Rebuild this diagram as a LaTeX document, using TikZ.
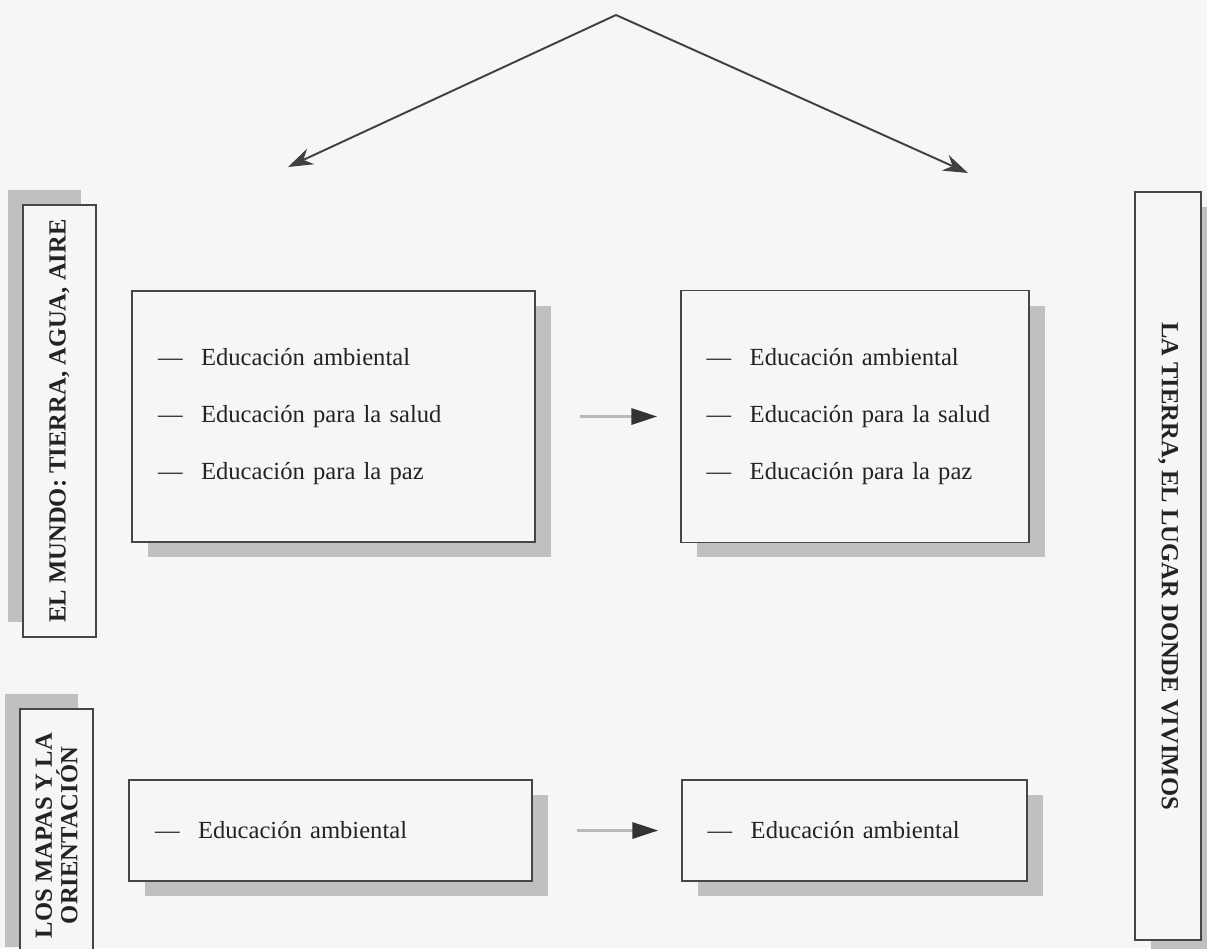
\documentclass[tikz,border=0pt]{standalone}
\usepackage{fontspec}
\setmainfont{Liberation Serif}
\usepackage{tikz}
\usetikzlibrary{arrows.meta,positioning,shadows}
\definecolor{fondo}{RGB}{246,246,244}
\definecolor{marco}{RGB}{70,70,70}
\definecolor{tinta}{RGB}{35,35,35}
\definecolor{sombra}{RGB}{192,192,192}

\begin{document}
\begin{tikzpicture}[x=0.02cm,y=-0.02cm,>=Stealth,
	caja/.style={draw=marco,fill=fondo,line width=1pt,text=tinta,inner xsep=0.52cm,inner ysep=0pt,align=left,font=\fontsize{14}{32.4}\selectfont},
	titulo/.style={draw=marco,fill=fondo,line width=1pt,text=tinta,align=center,inner sep=0pt,font=\bfseries\fontsize{14}{14.5}\selectfont},
	sombraabajo/.style={general shadow={fill=sombra,shadow xshift=0.32cm,shadow yshift=-0.3cm}},
	sombraarriba/.style={general shadow={fill=sombra,shadow xshift=-0.3cm,shadow yshift=0.3cm}},
	flecha/.style={line width=1.1pt,draw=black!75,-{Stealth[length=0.5cm,width=0.34cm]}},
	flechagris/.style={line width=1.8pt,draw=gray!55,-{Triangle[length=0.52cm,width=0.32cm,color=black!80]},shorten <=0.88cm,shorten >=0.45cm}]
		\fill[fondo] (0,0) rectangle (1207,948);
		\useasboundingbox (0,0) rectangle (1207,948);
		% flechas de arriba
		\coordinate (cima) at (616,15);
		\coordinate (puntaizq) at (288,167);
		\coordinate (puntader) at (968,173);
		\draw[flecha] (cima) -- (puntaizq);
		\draw[flecha] (cima) -- (puntader);
		% bloques verticales
		\node[titulo,sombraarriba,rotate=90,minimum width=8.64cm,minimum height=1.46cm] (mundo) at (59.5,421) {EL MUNDO: TIERRA, AGUA, AIRE};
		\node[titulo,sombraarriba,rotate=90,minimum width=5.06cm,minimum height=1.46cm] (mapas) at (56.5,835.5) {LOS MAPAS Y LA\\ ORIENTACIÓN};
		\node[titulo,sombraabajo,rotate=-90,minimum width=14.96cm,minimum height=1.32cm] (tierra) at (1168,566) {LA TIERRA, EL LUGAR DONDE VIVIMOS};
		% cajas de temas
		\node[caja,sombraabajo,text width=7.02cm,minimum height=5.02cm] (izq1) at (333.5,416.5) {---\hspace{0.75em}Educación ambiental\\ ---\hspace{0.75em}Educación para la salud\\ ---\hspace{0.75em}Educación para la paz};
		\node[caja,sombraabajo,text width=5.92cm,minimum height=5.04cm,right=2.88cm of izq1] (der1) {---\hspace{0.75em}Educación ambiental\\ ---\hspace{0.75em}Educación para la salud\\ ---\hspace{0.75em}Educación para la paz};
		\node[caja,sombraabajo,text width=7.02cm,minimum height=2.02cm] (izq2) at (330.5,830.5) {---\hspace{0.75em}Educación ambiental};
		\node[caja,sombraabajo,text width=5.86cm,minimum height=2.02cm,right=2.96cm of izq2] (der2) {---\hspace{0.75em}Educación ambiental};
		\draw[flechagris] (izq1.east) -- (der1.west);
		\draw[flechagris] (izq2.east) -- (der2.west);
\end{tikzpicture}
\end{document}
